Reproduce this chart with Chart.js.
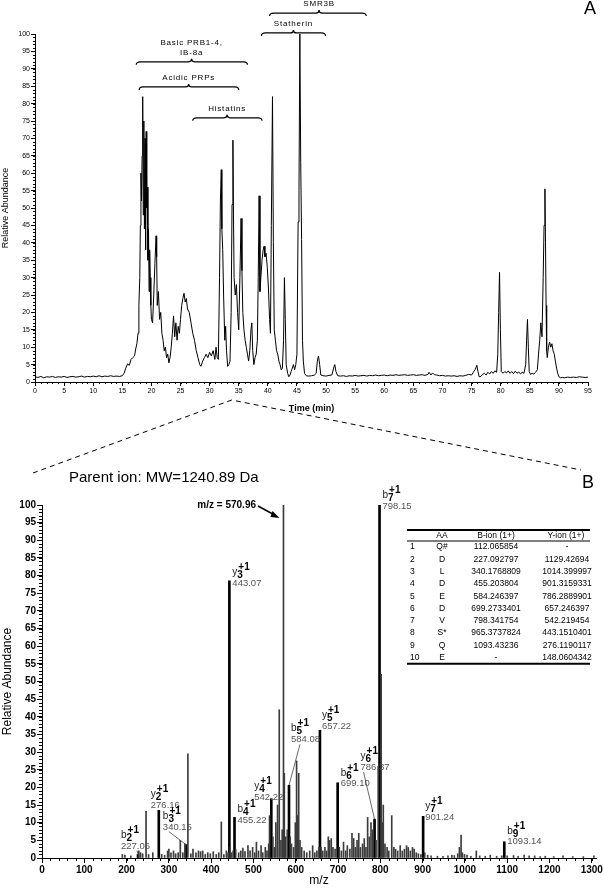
<!DOCTYPE html>
<html>
<head>
<meta charset="utf-8">
<script src="https://cdn.jsdelivr.net/npm/chart.js@4.4.1/dist/chart.umd.min.js"></script>
<style>
  html, body { margin: 0; padding: 0; background: #fff; }
  #wrap { position: relative; width: 604px; height: 888px; }
  #wrap canvas { position: absolute; left: 0; top: 0; }
</style>
</head>
<body>
<div id="wrap">
  <canvas id="chromChart" width="604" height="888"></canvas>
  <canvas id="msChart" width="604" height="888"></canvas>
</div>
<script>
// ---- panel A: base peak chromatogram ----
const chromTime = [0,0.5,1,1.5,2,2.5,3,3.5,4,4.5,5,5.5,6,6.5,7,7.5,8,8.5,9,9.5,10,10.5,11,11.5,12,12.5,13,13.5,14,14.5,
  15,15.3,15.6,15.9,16.2,16.5,16.8,17.1,17.3,17.5,17.7,17.85,18,18.1,18.2,18.3,18.4,18.5,18.6,18.7,18.8,18.9,19,19.1,19.2,19.3,19.4,19.5,19.6,19.7,19.8,19.9,
  20,20.2,20.4,20.6,20.8,20.9,21,21.2,21.4,21.6,21.8,22,22.2,22.4,22.6,22.8,23,23.2,23.4,23.6,23.8,24,24.2,24.4,24.6,24.8,25,25.2,25.4,25.6,25.8,26,26.2,26.5,26.8,
  27.1,27.4,27.7,28,28.3,28.5,28.8,29.1,29.4,29.7,30,30.3,30.6,30.9,31.1,31.3,31.5,31.7,31.85,32,32.1,32.25,32.4,32.6,32.75,32.9,33.1,33.3,33.5,33.7,33.85,34,34.1,
  34.2,34.4,34.6,34.8,35,35.2,35.4,35.55,35.7,35.9,36.1,36.3,36.5,36.7,36.9,37.1,37.25,37.4,37.6,37.8,38,38.2,38.35,38.5,38.65,38.8,39,39.2,39.35,39.5,39.7,39.9,
  40.1,40.3,40.45,40.6,40.8,40.95,41.1,41.3,41.5,41.7,41.9,42.1,42.3,42.5,42.7,42.85,43,43.15,43.4,43.6,43.8,44,44.2,44.4,44.6,44.8,45,45.2,45.35,45.5,45.65,45.8,
  45.95,46.1,46.3,46.6,47,47.5,48,48.3,48.5,48.7,48.9,49.1,49.5,50,50.5,51,51.3,51.5,51.7,52,52.5,53,53.5,54,54.5,55,55.5,56,56.5,57,57.5,58,58.5,59,59.5,60,
  60.5,61,61.5,62,62.5,63,63.5,64,64.5,65,65.5,66,66.5,67,67.5,67.7,68,68.3,68.6,69,69.5,70,70.5,71,71.5,72,72.5,73,73.5,74,74.5,75,75.3,75.6,75.9,76.1,76.3,
  76.6,76.9,77.2,77.5,77.8,78.1,78.4,78.7,79,79.3,79.5,79.65,79.8,79.95,80.1,80.4,80.7,81,81.3,81.6,81.9,82.2,82.5,82.8,83.1,83.4,83.7,84,84.3,84.45,84.6,84.75,
  84.9,85.1,85.4,85.7,86,86.3,86.5,86.7,86.9,87.1,87.3,87.45,87.6,87.7,87.8,87.9,88,88.2,88.4,88.6,88.8,89,89.2,89.4,89.6,89.8,90,90.3,90.6,91,91.5,92,92.5,
  93,93.5,94,94.5,95];
const chromAbund = [1.5,1.3,1.6,1.2,1.5,1.4,1.6,1.3,1.5,1.4,1.6,1.3,1.5,1.6,1.4,1.5,1.7,1.4,1.6,1.5,1.7,1.5,1.8,1.5,1.7,1.6,1.8,1.6,1.7,1.6,
  1.8,2.5,4,5.2,4.8,6.5,7,7.5,9.5,11,14,22,30,45,60,52,65,82,48,75,44,70,38,72,50,56,35,44,26,38,30,22,
  18,17,25,34,42,36,22,26,18,20,14,12,9,10,7,8,5.5,7,10,14,19,13,17,12,16,14,18,22,24,25.5,23,24,21,20,17,
  14,12,9,7,5,4.5,6,7,8,7,8.5,7.5,9,6.5,10,7,6.5,30,52,61,44,38,25,12,16,9,4.5,5,6,20,51,69.5,48,
  30,25,28,20,15,30,47,32,20,15,12,10,8,6,9,15,17,9,5,7,8,12,30,53.5,26,30,35,38,39,36,37,33,
  27,18,14,45,82,40,15,12,9,8,6,5,3.5,4,12,30,18,5,2.5,1.5,2,3,4,5,3.5,5,8,46,55,100,63,41,
  12,6,2.5,1.8,1.7,1.8,2,2.5,6,7.5,5,2,1.8,1.7,1.9,2,4,5,3,1.8,1.7,1.8,1.6,1.8,1.7,1.9,1.7,1.8,1.9,1.7,1.9,1.8,2,1.8,1.9,2,
  1.8,2,1.9,2.1,1.9,2,2.1,1.9,2,2.1,1.9,2,2.1,1.9,2.2,2.8,2,2.6,2.1,2,1.8,1.9,1.7,1.8,1.7,1.8,1.6,1.8,1.7,1.9,2.2,2,2.8,3.5,4.8,3,1.5,
  1.6,2.2,2.5,2,2.8,2.3,3,2.5,3.2,2.8,8,20,31.5,15,3,2.5,3,2.6,3.2,2.5,3,2.4,3.1,2.5,2.9,2.3,2.8,2.5,5,12,18,10,
  3,2.2,2.5,2.3,2.8,3.5,8,12,17,13,30,45,55.5,40,22,9,7,10,11.5,10,11,9,8,6,4,2.5,1.5,1.2,1.3,1.2,1.4,1.3,1.4,
  1.3,1.5,1.4,1.3,1.4];
const zoomTime = 33.8; // retention time of the peak expanded in panel B

// protein groups marked above panel A: [label lines], time range, centre, level (in % units)
const groupLabels = [['SMR3B'], ['Statherin'], ['Basic PRB1-4,', 'IB-8a'], ['Acidic PRPs'], ['Histatins']];
const groupFrom = [40.3, 38.9, 17.4, 17.9, 27.1];
const groupTo = [56.9, 49.9, 36.5, 35.0, 39.0];
const groupMid = [48.8, 44.4, 26.9, 26.4, 33.0];
const groupLevel = [106, 100.3, 92, 84.8, 75.9];

// ---- panel B: MS/MS spectrum ----
const mzTicks = [0, 100, 200, 300, 400, 500, 600, 700, 800, 900, 1000, 1100, 1200, 1300];

const fragName = ['b2', 'y2', 'b3', 'y3', 'b4', 'y4', 'b5', 'y5', 'b6', 'y6', 'b7', 'y7', 'b9'];
const fragMz = [227.06, 276.16, 340.15, 443.07, 455.22, 542.22, 584.08, 657.22, 699.10, 786.37, 798.15, 901.24, 1093.14];
const fragInt = [1.0, 13.5, 3.8, 78.5, 11.5, 16.8, 20.6, 36.2, 21.3, 11.0, 100, 11.8, 4.6];

const msMz = [190,196,210,229,233,238,246,252,262,283,290,297,300,305,311,316,322,327,333,338,345,352,357,364,370,375,380,386,392,398,
  405,412,418,424,430,436,440,445,448,452,458,465,470,475,480,487,492,498,503,507,512,518,522,528,532,536,538,546,550,553,557,561,565,568,
  571,573,576,580,587,590,595,599,602,605,607,610,614,620,626,633,640,645,650,655,660,664,669,673,677,680,684,688,693,703,708,713,718,722,
  728,733,737,741,745,749,753,758,762,766,770,774,778,782,790,795,802,805,807,811,816,820,827,832,836,841,847,852,857,862,866,871,876,880,
  885,890,896,905,912,920,935,948,960,969,975,983,987,991,994,999,1005,1014,1027,1035,1048,1060,1075,1087,1100,1115,1126,1140,1152,1165,
  1178,1190,1210,1232,1255,1280,1305];
const msInt = [1.0,0.8,0.6,2.0,1.5,1.2,13.2,1.0,1.5,1.0,0.8,2.0,2.5,1.5,2.0,1.2,1.5,5.0,1.5,4.0,29.5,1.2,2.5,1.5,2.0,1.8,2.0,1.0,1.5,1.2,
  1.8,1.0,1.5,10.2,1.0,2.0,1.5,3.0,1.5,2.0,2.5,1.5,2.0,2.8,1.8,3.5,2.0,3.0,1.5,4.5,2.0,3.5,1.5,3.0,2.0,4.0,12,6,3.0,10.0,15,42,5,8,
  100,24,6,8,6,4,3,10,27.5,12,24,5,3,2,1.5,2,3.5,1.5,2.0,3,3,2,3,2,6,5,5.5,3,2.5,3,2,4.5,2,3.5,
  2.5,7,5.5,3,5,7,3,4,5.5,3,11.5,6,10,8,5,26,52,10,15,4,3,2,12,3,2.5,2,3.5,2,2.5,3.5,3,2,3,2.5,
  1.5,1.2,1,1.5,0.8,0.6,0.5,0.5,0.6,0.8,0.7,1.2,3,6.5,1.5,1,0.8,0.5,2.0,0.6,0.5,0.8,0.5,0.6,0.6,0.7,0.5,0.8,0.6,0.6,
  0.4,0.5,0.4,0.6,0.4,0.4,0.6];

// fragment table
const tableAA = ['Q#', 'D', 'L', 'D', 'E', 'D', 'V', 'S*', 'Q', 'E'];
const tableB = ['112.065854', '227.092797', '340.1768809', '455.203804', '584.246397', '699.2733401', '798.341754', '965.3737824', '1093.43236', '-'];
const tableY = ['-', '1129.42694', '1014.399997', '901.3159331', '786.2889901', '657.246397', '542.219454', '443.1510401', '276.1190117', '148.0604342'];

Chart.defaults.font.family = '"Liberation Sans", Arial, sans-serif';
Chart.defaults.color = '#000';

const FONT = '"Liberation Sans", Arial, sans-serif';

const minorTicks = {
  id: 'minorTicks',
  afterDraw(chart, args, o) {
    const {ctx, chartArea: a, scales: {x, y}} = chart;
    ctx.save();
    ctx.strokeStyle = '#000';
    ctx.lineWidth = 1;
    ctx.beginPath();
    for (let v = y.min; v <= y.max; v += o.yStep) {
      const py = Math.round(y.getPixelForValue(v)) + 0.5;
      ctx.moveTo(a.left - o.len, py); ctx.lineTo(a.left, py);
    }
    for (let v = x.min; v <= x.max; v += o.xStep) {
      const px = Math.round(x.getPixelForValue(v)) + 0.5;
      ctx.moveTo(px, a.bottom); ctx.lineTo(px, a.bottom + o.len);
    }
    ctx.stroke();
    ctx.restore();
  }
};

function brace(ctx, x1, x2, xm, y) {
  ctx.beginPath();
  ctx.moveTo(x1, y + 3);
  ctx.quadraticCurveTo(x1, y, x1 + 4, y);
  ctx.lineTo(xm - 3, y);
  ctx.quadraticCurveTo(xm, y, xm, y - 3);
  ctx.quadraticCurveTo(xm, y, xm + 3, y);
  ctx.lineTo(x2 - 4, y);
  ctx.quadraticCurveTo(x2, y, x2, y + 3);
  ctx.stroke();
}

const chromDecor = {
  id: 'chromDecor',
  afterDraw(chart) {
    const {ctx, chartArea: a, scales: {x, y}} = chart;
    ctx.save();
    ctx.strokeStyle = '#000';
    ctx.fillStyle = '#000';
    ctx.lineWidth = 1.2;
    ctx.textAlign = 'center';
    ctx.textBaseline = 'middle';
    ctx.font = '8px ' + FONT;
    ctx.letterSpacing = '0.8px';
    groupLabels.forEach((lines, i) => {
      const py = y.getPixelForValue(groupLevel[i]);
      const xm = x.getPixelForValue(groupMid[i]);
      brace(ctx, x.getPixelForValue(groupFrom[i]), x.getPixelForValue(groupTo[i]), xm, py);
      lines.forEach((t, k) => ctx.fillText(t, xm, py - 9 - (lines.length - 1 - k) * 10));
    });
    ctx.letterSpacing = '0px';
    // panel letter
    ctx.font = '18px ' + FONT;
    ctx.fillText('A', 590, 9);
    // dashed zoom lines to panel B
    const ax = x.getPixelForValue(zoomTime);
    ctx.lineWidth = 1;
    ctx.setLineDash([5, 4]);
    ctx.beginPath();
    ctx.moveTo(33, 473); ctx.lineTo(ax, a.bottom + 18); ctx.lineTo(581, 470);
    ctx.stroke();
    ctx.restore();
  }
};

new Chart(document.getElementById('chromChart'), {
  type: 'line',
  data: {
    datasets: [{
      data: chromTime.map((t, i) => ({x: t, y: chromAbund[i]})),
      borderColor: '#000', borderWidth: 1, pointRadius: 0, tension: 0
    }]
  },
  options: {
    responsive: false, animation: false, events: [],
    layout: {padding: {left: 0, right: 16, top: 34, bottom: 474}},
    plugins: {legend: {display: false}, tooltip: {enabled: false},
      minorTicks: {xStep: 1, yStep: 1, len: 2}},
    scales: {
      x: {type: 'linear', min: 0, max: 95,
        ticks: {stepSize: 5, autoSkip: false, maxTicksLimit: 40, maxRotation: 0, padding: 1, font: {size: 7}},
        grid: {drawOnChartArea: false, tickLength: 4, color: '#000'},
        border: {color: '#000'},
        title: {display: true, text: 'Time (min)', font: {size: 9, weight: 'bold'}, padding: 0},
        afterFit(s) { s.height = 32; }},
      y: {min: 0, max: 100,
        ticks: {stepSize: 5, autoSkip: false, maxTicksLimit: 40, padding: 1, font: {size: 7}},
        grid: {drawOnChartArea: false, tickLength: 4, color: '#000'},
        border: {color: '#000'},
        title: {display: true, text: 'Relative Abundance', font: {size: 9}, padding: 0},
        afterFit(s) { s.width = 35; }}
    }
  },
  plugins: [minorTicks, chromDecor]
});

// label placement for the fragment ions: offset of the value text from the peak top (px)
const ionLayout = {
  b2: {dx: -17, dy: -8, lead: [16, 4]}, y2: {dx: -8, dy: -5}, b3: {dx: -23, dy: -17, lead: [6, 4]},
  y3: {dx: 3, dy: 2}, b4: {dx: 3, dy: 3}, y4: {dx: -17, dy: -1}, b5: {dx: 2, dy: -46, lead: [9, 5]},
  y5: {dx: 2, dy: -4}, b6: {dx: 3, dy: 1}, y6: {dx: -14, dy: -52, lead: [3, 5]}, b7: {dx: 3, dy: 1},
  y7: {dx: 2, dy: 1}, b9: {dx: 3, dy: 0}
};

const msDecor = {
  id: 'msDecor',
  afterDraw(chart) {
    const {ctx, scales: {x, y}} = chart;
    ctx.save();
    ctx.textBaseline = 'middle';
    ctx.textAlign = 'left';
    ctx.fillStyle = '#000';
    ctx.font = '15px ' + FONT;
    ctx.fillText('Parent ion: MW=1240.89 Da', 69, 478);
    ctx.font = '18px ' + FONT;
    ctx.textAlign = 'center';
    ctx.fillText('B', 588, 483);

    // precursor arrow
    ctx.textAlign = 'right';
    ctx.font = 'bold 10px ' + FONT;
    ctx.fillText('m/z = 570.96', 256, 505);
    const tipX = x.getPixelForValue(571) - 4, tipY = 518;
    ctx.strokeStyle = '#000';
    ctx.lineWidth = 1.5;
    ctx.beginPath(); ctx.moveTo(258, 506); ctx.lineTo(tipX - 4, tipY - 2.5); ctx.stroke();
    ctx.beginPath(); ctx.moveTo(tipX, tipY); ctx.lineTo(tipX - 7, tipY - 7); ctx.lineTo(tipX - 9, tipY - 1); ctx.closePath(); ctx.fill();

    // fragment labels
    fragName.forEach((name, i) => {
      const L = ionLayout[name];
      const px = x.getPixelForValue(fragMz[i]);
      const py = y.getPixelForValue(fragInt[i]);
      const vx = px + L.dx, vy = py + L.dy;
      ctx.textAlign = 'left';
      ctx.fillStyle = '#555';
      ctx.font = '9.5px ' + FONT;
      ctx.fillText(fragMz[i].toFixed(2), vx, vy);
      ctx.fillStyle = '#222';
      ctx.font = '10px ' + FONT;
      ctx.fillText(name[0], vx, vy - 11);
      const w = ctx.measureText(name[0]).width;
      ctx.fillStyle = '#000';
      ctx.font = 'bold 10px ' + FONT;
      ctx.fillText(name.slice(1), vx + w, vy - 8);
      ctx.fillText('+1', vx + w + 1, vy - 16);
      if (L.lead) {
        ctx.strokeStyle = '#444';
        ctx.lineWidth = 0.8;
        ctx.beginPath(); ctx.moveTo(vx + L.lead[0], vy + L.lead[1]); ctx.lineTo(px, py); ctx.stroke();
      }
    });

    // fragment table
    const left = 407, right = 590, top = 530, rowH = 12.3;
    ctx.strokeStyle = '#000';
    ctx.lineWidth = 2;
    ctx.beginPath(); ctx.moveTo(left, top); ctx.lineTo(right, top); ctx.stroke();
    ctx.lineWidth = 1;
    ctx.beginPath(); ctx.moveTo(left, top + 11); ctx.lineTo(right, top + 11); ctx.stroke();
    ctx.fillStyle = '#000';
    ctx.font = '8.5px ' + FONT;
    ctx.textAlign = 'center';
    ctx.fillText('AA', 442, top + 6);
    ctx.fillText('B-ion (1+)', 496, top + 6);
    ctx.fillText('Y-ion (1+)', 566, top + 6);
    tableAA.forEach((aa, i) => {
      const ry = top + 17 + i * rowH;
      ctx.textAlign = 'left';
      ctx.fillText(String(i + 1), 410, ry);
      ctx.textAlign = 'center';
      ctx.fillText(aa, 442, ry);
      ctx.fillText(tableB[i], 496, ry);
      ctx.fillText(tableY[i], 567, ry);
    });
    const bot = top + 17 + 9 * rowH + 6;
    ctx.lineWidth = 2;
    ctx.beginPath(); ctx.moveTo(left, bot); ctx.lineTo(right, bot); ctx.stroke();
    ctx.restore();
  }
};

new Chart(document.getElementById('msChart'), {
  type: 'bar',
  data: {
    datasets: [
      {data: msMz.map((m, i) => ({x: m, y: msInt[i]})), backgroundColor: '#3c3c3c', barThickness: 1, grouped: false},
      {data: fragMz.map((m, i) => ({x: m, y: fragInt[i]})), backgroundColor: '#000', barThickness: 2, grouped: false}
    ]
  },
  options: {
    responsive: false, animation: false, events: [],
    layout: {padding: {left: 0, right: 8, top: 505, bottom: 0}},
    plugins: {legend: {display: false}, tooltip: {enabled: false},
      minorTicks: {xStep: 20, yStep: 1, len: 3}},
    scales: {
      x: {type: 'linear', min: 0, max: 1310, offset: false,
        afterBuildTicks(s) { s.ticks = mzTicks.map(v => ({value: v})); },
        ticks: {autoSkip: false, maxTicksLimit: 40, maxRotation: 0, padding: 1,
          font: {size: 10, weight: 'bold'}, callback: v => String(v)},
        grid: {drawOnChartArea: false, offset: false, tickLength: 5, color: '#000'},
        border: {color: '#000'},
        title: {display: true, text: 'm/z', font: {size: 12}, padding: 0},
        afterFit(s) { s.height = 30; }},
      y: {min: 0, max: 100,
        ticks: {stepSize: 5, autoSkip: false, maxTicksLimit: 40, padding: 1, font: {size: 10, weight: 'bold'}},
        grid: {drawOnChartArea: false, tickLength: 5, color: '#000'},
        border: {color: '#000'},
        title: {display: true, text: 'Relative Abundance', font: {size: 12}, padding: 0},
        afterFit(s) { s.width = 42; }}
    }
  },
  plugins: [minorTicks, msDecor]
});
</script>
</body>
</html>
